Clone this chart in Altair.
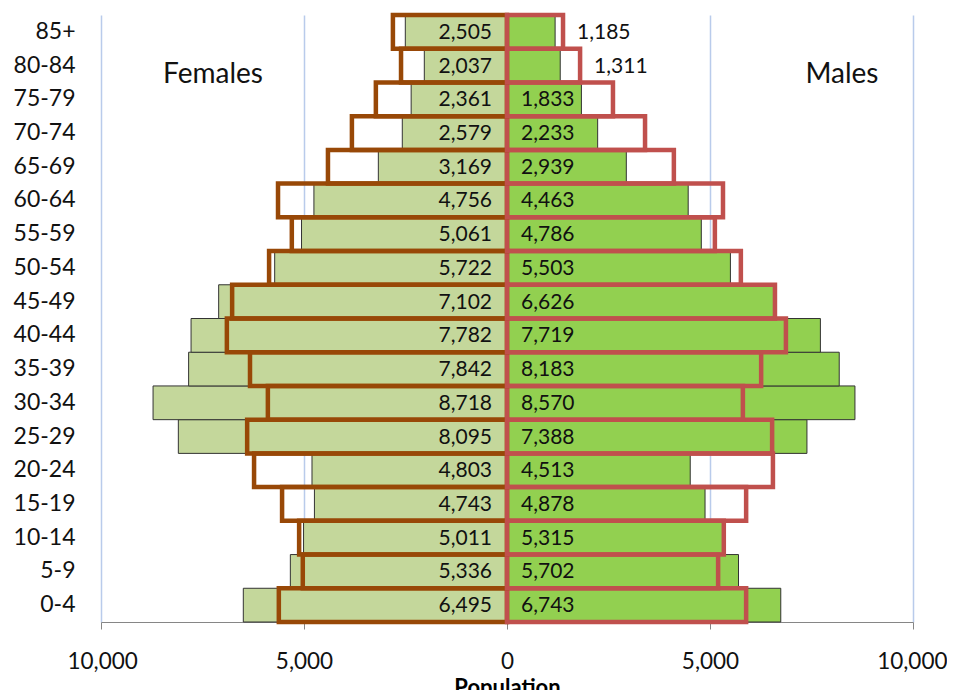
import altair as alt
import pandas as pd

ages = ["0-4", "5-9", "10-14", "15-19", "20-24", "25-29", "30-34", "35-39", "40-44",
        "45-49", "50-54", "55-59", "60-64", "65-69", "70-74", "75-79", "80-84", "85+"]
females = [6495, 5336, 5011, 4743, 4803, 8095, 8718, 7842, 7782,
           7102, 5722, 5061, 4756, 3169, 2579, 2361, 2037, 2505]
males = [6743, 5702, 5315, 4878, 4513, 7388, 8570, 8183, 7719,
         6626, 5503, 4786, 4463, 2939, 2233, 1833, 1311, 1185]
females_outline = [5620, 5030, 5120, 5540, 6230, 6400, 5890, 6330, 6900,
                   6770, 5860, 5300, 5640, 4410, 3820, 3230, 2610, 2810]
males_outline = [5890, 5200, 5340, 5890, 6550, 6530, 5810, 6260, 6870,
                 6600, 5760, 5120, 5320, 4110, 3400, 2610, 1800, 1380]

FONT = "Lato"
order = list(reversed(ages))

rows = []
for i, a in enumerate(ages):
    rows.append({"age": a, "sex": "Females", "value": -females[i], "outline": -females_outline[i],
                 "label": f"{females[i]:,}", "inside": True})
    rows.append({"age": a, "sex": "Males", "value": males[i], "outline": males_outline[i],
                 "label": f"{males[i]:,}", "inside": males[i] >= 1500})
df = pd.DataFrame(rows)

xscale = alt.Scale(domain=[-10000, 10000], nice=False)
yscale = alt.Scale(domain=order, paddingInner=0, paddingOuter=0)

base = alt.Chart(df)

x_axis = alt.Axis(
    values=[-10000, -5000, 0, 5000, 10000],
    labelExpr="format(abs(datum.value), ',')",
    title="Population",
    titleFont=FONT, titleFontSize=22, titleFontWeight="bold", titleColor="#000",
    titlePadding=5,
    labelFont=FONT, labelFontSize=22.5, labelColor="#111",
    labelFlush=True, labelFlushOffset=34,
    labelPadding=21, tickSize=7, tickColor="#868686",
    domainColor="#868686", domainWidth=1,
    grid=True, gridColor="#b9cbeb", gridWidth=1.5,
)
y_axis = alt.Axis(
    title=None, ticks=False, tickSize=0, domain=False, grid=False,
    labelFont=FONT, labelFontSize=23, labelColor="#111", labelPadding=26,
)

fill_scale = alt.Scale(domain=["Females", "Males"], range=["#c4d79b", "#92d050"])
stroke_scale = alt.Scale(domain=["Females", "Males"], range=["#984807", "#c0504d"])

bars = base.mark_bar(stroke="#333333", strokeWidth=1).encode(
    x=alt.X("value:Q", scale=xscale, axis=x_axis),
    x2=alt.datum(0),
    y=alt.Y("age:N", scale=yscale, sort=order, axis=y_axis),
    color=alt.Color("sex:N", scale=fill_scale, legend=None),
)

outlines = base.mark_bar(fillOpacity=0, strokeWidth=4.5).encode(
    x=alt.X("outline:Q", scale=xscale),
    x2=alt.datum(0),
    y=alt.Y("age:N", scale=yscale, sort=order),
    stroke=alt.Stroke("sex:N", scale=stroke_scale, legend=None),
)

text_f = base.transform_filter("datum.sex == 'Females'").mark_text(
    align="right", baseline="middle", dx=-15, dy=1, font=FONT, fontSize=21, color="#111"
).encode(
    x=alt.datum(0), y=alt.Y("age:N", scale=yscale, sort=order), text="label:N"
)
text_m = base.transform_filter("datum.sex == 'Males' && datum.inside").mark_text(
    align="left", baseline="middle", dx=14, dy=1, font=FONT, fontSize=21, color="#111"
).encode(
    x=alt.datum(0), y=alt.Y("age:N", scale=yscale, sort=order), text="label:N"
)
text_out = base.transform_filter("datum.sex == 'Males' && !datum.inside").mark_text(
    align="left", baseline="middle", dx=14, dy=1, font=FONT, fontSize=21, color="#111"
).encode(
    x=alt.X("outline:Q", scale=xscale),
    y=alt.Y("age:N", scale=yscale, sort=order), text="label:N"
)

side_labels = ["Females", "Males"]
side_x = [-7240, 8250]
side_df = pd.DataFrame({"name": side_labels, "x": side_x, "age": ["80-84", "80-84"]})
sides = alt.Chart(side_df).mark_text(
    align="center", baseline="middle", dy=9, font=FONT, fontSize=28, color="#111"
).encode(
    x=alt.X("x:Q", scale=xscale),
    y=alt.Y("age:N", scale=yscale, sort=order),
    text="name:N",
)

chart = alt.layer(bars, outlines, text_f, text_m, text_out, sides).properties(
    width=812, height=607,
    autosize=alt.AutoSizeParams(type="none"),
    padding={"left": 93, "top": 7, "right": 34, "bottom": 75},
).configure_view(stroke=None)

chart.save("out.html", embed_options={"renderer": "svg", "actions": False})
